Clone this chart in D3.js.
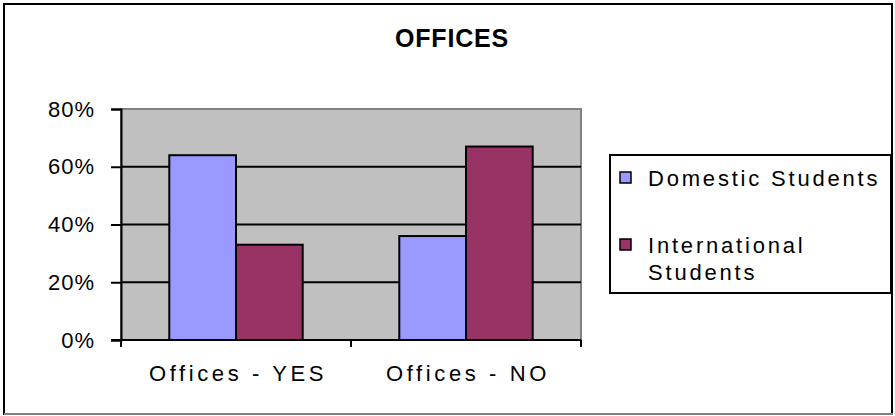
<!DOCTYPE html>
<html>
<head>
<meta charset="utf-8">
<script src="https://cdn.jsdelivr.net/npm/d3@7/dist/d3.min.js"></script>
<style>
  html, body { margin: 0; padding: 0; background: #fff; }
  svg { display: block; font-family: "Liberation Sans", Arial, sans-serif; }
</style>
</head>
<body>
<svg id="chart" width="895" height="416"></svg>
<script>
// Chart data
const title = "OFFICES";
const categories = ["Offices - YES", "Offices - NO"];
const seriesNames = ["Domestic Students", "International Students"];
const domestic = [0.64, 0.36];
const international = [0.33, 0.67];
const yTicks = [0, 0.2, 0.4, 0.6, 0.8];
const seriesColors = ["#9999FF", "#993366"];

const seriesValues = [domestic, international];
const rows = categories.map((c, i) => ({
  category: c,
  values: seriesNames.map((s, j) => ({ series: s, value: seriesValues[j][i], color: seriesColors[j] }))
}));

const svg = d3.select("#chart");

// Outer chart frame
svg.append("rect")
  .attr("x", 4).attr("y", 4).attr("width", 888).attr("height", 410)
  .attr("fill", "#fff").attr("stroke", "#000").attr("stroke-width", 2);
svg.append("line")
  .attr("x1", 4).attr("x2", 893).attr("y1", 414).attr("y2", 414)
  .attr("stroke", "#808080").attr("stroke-width", 2);

// Title
svg.append("text")
  .attr("x", 452).attr("y", 47)
  .attr("text-anchor", "middle")
  .attr("font-size", 25).attr("font-weight", "bold")
  .attr("letter-spacing", 0.8)
  .text(title);

const plot = { left: 121, right: 581, top: 109, bottom: 340 };

const x0 = d3.scaleBand()
  .domain(categories)
  .range([plot.left, plot.right])
  .paddingInner(0.42)
  .paddingOuter(0.21);
const x1 = d3.scaleBand()
  .domain(seriesNames)
  .range([0, x0.bandwidth()]);
const y = d3.scaleLinear()
  .domain([0, 0.8])
  .range([plot.bottom, plot.top]);

// Plot area background
svg.append("rect")
  .attr("x", plot.left).attr("y", plot.top)
  .attr("width", plot.right - plot.left).attr("height", plot.bottom - plot.top)
  .attr("fill", "#C0C0C0").attr("stroke", "#808080").attr("stroke-width", 2);

// Gridlines
svg.append("g")
  .selectAll("line")
  .data(yTicks.filter(t => t > 0 && t < 0.8))
  .join("line")
  .attr("x1", plot.left).attr("x2", plot.right)
  .attr("y1", d => y(d)).attr("y2", d => y(d))
  .attr("stroke", "#000").attr("stroke-width", 2);

// Bars
svg.append("g")
  .selectAll("g")
  .data(rows)
  .join("g")
  .attr("transform", d => `translate(${x0(d.category)},0)`)
  .selectAll("rect")
  .data(d => d.values)
  .join("rect")
  .attr("x", d => x1(d.series))
  .attr("width", x1.bandwidth())
  .attr("y", d => y(d.value))
  .attr("height", d => y(0) - y(d.value))
  .attr("fill", d => d.color)
  .attr("stroke", "#000").attr("stroke-width", 2);

// Y axis
const yAxis = svg.append("g")
  .attr("transform", `translate(${plot.left},0)`)
  .call(d3.axisLeft(y).tickValues(yTicks).tickFormat(d3.format(".0%")).tickSize(10).tickPadding(16));
yAxis.select(".domain").attr("stroke", "#000").attr("stroke-width", 2);
yAxis.selectAll(".tick line").attr("stroke", "#000").attr("stroke-width", 2);
yAxis.selectAll(".tick text")
  .attr("font-size", 22).attr("fill", "#000")
  .attr("font-family", "'Liberation Sans', Arial, sans-serif")
  .attr("letter-spacing", 1);

// X axis with ticks at category boundaries
const xBoundaries = d3.range(categories.length + 1).map(i => plot.left + i * x0.step());
svg.append("line")
  .attr("x1", plot.left - 10).attr("x2", plot.right)
  .attr("y1", plot.bottom).attr("y2", plot.bottom)
  .attr("stroke", "#000").attr("stroke-width", 2);
svg.append("g")
  .selectAll("line")
  .data(xBoundaries)
  .join("line")
  .attr("x1", d => d).attr("x2", d => d)
  .attr("y1", plot.bottom).attr("y2", plot.bottom + 7)
  .attr("stroke", "#000").attr("stroke-width", 2);
svg.append("g")
  .selectAll("text")
  .data(categories)
  .join("text")
  .attr("x", d => x0(d) + x0.bandwidth() / 2 + 2)
  .attr("y", 381)
  .attr("text-anchor", "middle")
  .attr("font-size", 22)
  .attr("letter-spacing", 3.6)
  .text(d => d);

// Legend
const legend = svg.append("g");
legend.append("rect")
  .attr("x", 610).attr("y", 155).attr("width", 281).attr("height", 138)
  .attr("fill", "#fff").attr("stroke", "#000").attr("stroke-width", 2);
const legendItems = [
  { lines: ["Domestic Students"], color: seriesColors[0], y: 186 },
  { lines: ["International", "Students"], color: seriesColors[1], y: 253 }
];
legendItems.forEach((item, i) => {
  legend.append("rect")
    .attr("x", 620).attr("y", item.y - 14).attr("width", 11).attr("height", 11)
    .attr("fill", item.color).attr("stroke", "#000").attr("stroke-width", 1.5);
  const t = legend.append("text")
    .attr("x", 648).attr("y", item.y)
    .attr("font-size", 22).attr("letter-spacing", 2.8);
  item.lines.forEach((ln, k) => {
    t.append("tspan").attr("x", 648).attr("dy", k === 0 ? 0 : 27).text(ln);
  });
  t.datum(seriesNames[i]);
});
</script>
</body>
</html>
